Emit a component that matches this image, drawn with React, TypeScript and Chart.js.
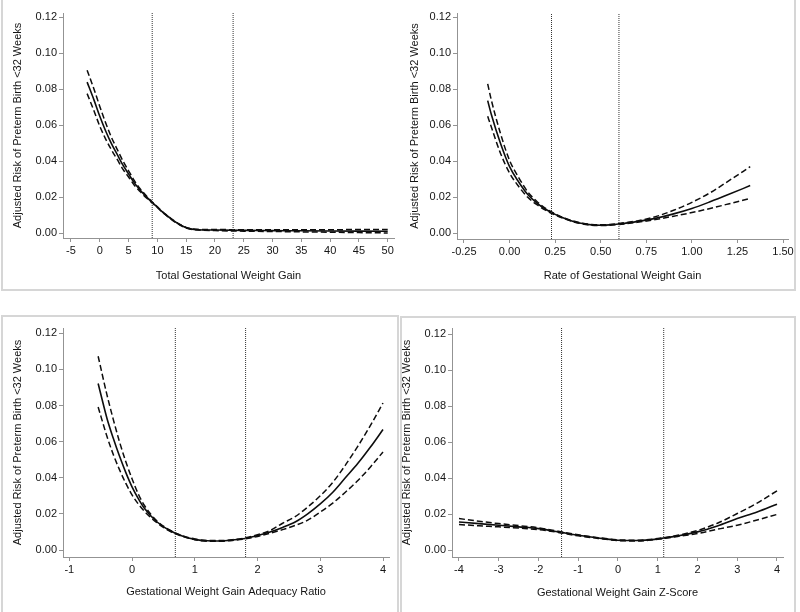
import React, { useEffect, useRef } from "react";
import { Chart, registerables } from "chart.js";

Chart.register(...registerables);

// ---------- Panel 1: Total Gestational Weight Gain ----------
const p1X = [-2.2, -1, 0, 1, 2, 3, 4, 5, 6, 7, 8, 9, 10, 11, 12, 13, 14, 15, 16, 17, 20, 25, 30, 35, 40, 45, 50];
const p1Est = [0.084, 0.074, 0.065, 0.057, 0.05, 0.044, 0.038, 0.033, 0.028, 0.024, 0.0205, 0.0175, 0.0145, 0.0115, 0.009, 0.0066, 0.0046, 0.0031, 0.0023, 0.002, 0.0018, 0.0016, 0.0015, 0.0014, 0.0013, 0.0012, 0.0011];
const p1Upper = [0.0906, 0.08, 0.0705, 0.0615, 0.0535, 0.0468, 0.0403, 0.0347, 0.0293, 0.0248, 0.0211, 0.0178, 0.0147, 0.0117, 0.0092, 0.0068, 0.0048, 0.0033, 0.0025, 0.0022, 0.0021, 0.002, 0.002, 0.002, 0.002, 0.0021, 0.0021];
const p1Lower = [0.0776, 0.068, 0.0595, 0.0525, 0.0465, 0.0412, 0.0357, 0.0313, 0.0267, 0.0232, 0.0199, 0.0172, 0.0143, 0.0113, 0.0088, 0.0064, 0.0044, 0.0029, 0.0021, 0.0018, 0.0015, 0.0012, 0.001, 0.0008, 0.0006, 0.0004, 0.0002];
const p1Cutoffs = [9.1, 23.15];
const p1Ticks = [-5, 0, 5, 10, 15, 20, 25, 30, 35, 40, 45, 50];

// ---------- Panel 2: Rate of Gestational Weight Gain ----------
const p2X = [-0.12, -0.1, -0.05, 0, 0.05, 0.1, 0.15, 0.2, 0.25, 0.3, 0.35, 0.4, 0.45, 0.5, 0.55, 0.6, 0.7, 0.8, 0.9, 1.0, 1.1, 1.2, 1.32];
const p2Est = [0.0737, 0.066, 0.05, 0.037, 0.0285, 0.0215, 0.0168, 0.0132, 0.0105, 0.0083, 0.0066, 0.0054, 0.0047, 0.0045, 0.0047, 0.0052, 0.0065, 0.0083, 0.0108, 0.0138, 0.0175, 0.0215, 0.0265];
const p2Upper = [0.083, 0.074, 0.0555, 0.0405, 0.031, 0.023, 0.0177, 0.0137, 0.0108, 0.0085, 0.0068, 0.0056, 0.0049, 0.0047, 0.0049, 0.0055, 0.0069, 0.0092, 0.0128, 0.0172, 0.0225, 0.029, 0.037];
const p2Lower = [0.065, 0.059, 0.0445, 0.0335, 0.026, 0.02, 0.0159, 0.0127, 0.0102, 0.0081, 0.0064, 0.0052, 0.0045, 0.0043, 0.0045, 0.0049, 0.0061, 0.0076, 0.0095, 0.0115, 0.0138, 0.0163, 0.0194];
const p2Cutoffs = [0.23, 0.6];
const p2Ticks = [-0.25, 0, 0.25, 0.5, 0.75, 1.0, 1.25, 1.5];

// ---------- Panel 3: Gestational Weight Gain Adequacy Ratio ----------
const p3X = [-0.54, -0.4, -0.3, -0.2, -0.1, 0, 0.1, 0.2, 0.4, 0.6, 0.8, 1.0, 1.2, 1.4, 1.6, 1.8, 2.0, 2.2, 2.4, 2.6, 2.8, 3.0, 3.2, 3.4, 3.6, 3.8, 4.0];
const p3Est = [0.0922, 0.073, 0.062, 0.052, 0.043, 0.035, 0.0285, 0.023, 0.0155, 0.0108, 0.0078, 0.0059, 0.0051, 0.005, 0.0055, 0.0064, 0.008, 0.01, 0.0125, 0.0155, 0.02, 0.0255, 0.032, 0.04, 0.048, 0.057, 0.0667];
const p3Upper = [0.1073, 0.086, 0.0725, 0.06, 0.049, 0.0395, 0.031, 0.0245, 0.016, 0.0111, 0.008, 0.0061, 0.0053, 0.0052, 0.0057, 0.0067, 0.0085, 0.0108, 0.0148, 0.0185, 0.0238, 0.03, 0.0375, 0.047, 0.0575, 0.069, 0.0814];
const p3Lower = [0.0792, 0.063, 0.053, 0.0445, 0.037, 0.0305, 0.0255, 0.0213, 0.015, 0.0105, 0.0076, 0.0057, 0.0049, 0.0048, 0.0053, 0.0061, 0.0075, 0.0093, 0.0113, 0.0136, 0.0165, 0.021, 0.026, 0.032, 0.0385, 0.046, 0.0543];
const p3Cutoffs = [0.69, 1.81];
const p3Ticks = [-1, 0, 1, 2, 3, 4];

// ---------- Panel 4: Gestational Weight Gain Z-Score ----------
const p4X = [-4, -3.5, -3, -2.5, -2, -1.5, -1, -0.5, 0, 0.5, 1, 1.5, 2, 2.5, 3, 3.5, 4];
const p4Est = [0.0157, 0.0148, 0.0139, 0.013, 0.012, 0.0102, 0.0083, 0.0068, 0.0056, 0.0054, 0.0063, 0.008, 0.0102, 0.0135, 0.0176, 0.0212, 0.0256];
const p4Upper = [0.0176, 0.0161, 0.0148, 0.0137, 0.0125, 0.0105, 0.0086, 0.007, 0.0058, 0.0056, 0.0065, 0.0083, 0.011, 0.015, 0.0204, 0.0262, 0.033];
const p4Lower = [0.0143, 0.0136, 0.013, 0.0123, 0.0115, 0.0099, 0.008, 0.0066, 0.0054, 0.0052, 0.0061, 0.0077, 0.0093, 0.0117, 0.0139, 0.0168, 0.0199];
const p4Cutoffs = [-1.42, 1.15];
const p4Ticks = [-4, -3, -2, -1, 0, 1, 2, 3, 4];

const yTicks = [0, 0.02, 0.04, 0.06, 0.08, 0.1, 0.12];
const yTitleText = "Adjusted Risk of Preterm Birth <32 Weeks";

const FONT_FAMILY = "'Liberation Sans', Arial, Helvetica, sans-serif";
const TEXT = "#151515";
const AXIS = "#939393";

type PanelDef = {
  left: number;
  top: number;
  width: number;
  height: number;
  area: { l: number; t: number; r: number; b: number };
  xMin: number;
  xMax: number;
  yMin: number;
  yMax: number;
  xTicks: number[];
  xFmt: (v: number) => string;
  xs: number[];
  est: number[];
  up: number[];
  lo: number[];
  cutoffs: number[];
  xTitle: string;
  yTitlePad: number;
  xTitlePad: number;
};

const toPts = (xs: number[], ys: number[]) => xs.map((x, i) => ({ x, y: ys[i] }));

function Panel(p: PanelDef) {
  const ref = useRef<HTMLCanvasElement | null>(null);
  useEffect(() => {
    if (!ref.current) return;
    const font = { family: FONT_FAMILY, size: 11 };
    const curve = (data: any, dashed: boolean) => ({
      data,
      borderColor: "#0d0d0d",
      borderWidth: dashed ? 1.5 : 1.6,
      borderDash: dashed ? [6, 3] : [],
      pointRadius: 0,
      fill: false,
      cubicInterpolationMode: "monotone" as const,
    });
    const vline = (x: number) => ({
      data: [
        { x, y: p.yMin },
        { x, y: p.yMax },
      ],
      borderColor: "#333",
      borderWidth: 1,
      borderDash: [1, 1],
      pointRadius: 0,
      fill: false,
    });
    const chart = new Chart(ref.current, {
      type: "line",
      data: {
        datasets: [
          ...p.cutoffs.map(vline),
          curve(toPts(p.xs, p.up), true),
          curve(toPts(p.xs, p.lo), true),
          curve(toPts(p.xs, p.est), false),
        ] as any,
      },
      options: {
        animation: false,
        responsive: false,
        maintainAspectRatio: false,
        events: [],
        layout: { padding: { left: 0, top: p.area.t, right: p.width - p.area.r, bottom: 0 } },
        plugins: { legend: { display: false }, tooltip: { enabled: false } },
        scales: {
          x: {
            type: "linear",
            min: p.xMin,
            max: p.xMax,
            afterBuildTicks: (s: any) => {
              s.ticks = p.xTicks.map((v) => ({ value: v }));
            },
            afterFit: (s: any) => {
              s.height = p.height - p.area.b;
            },
            ticks: {
              autoSkip: false,
              maxRotation: 0,
              padding: 2,
              color: TEXT,
              font,
              callback: (v: any) => p.xFmt(Number(v)),
            },
            grid: { drawOnChartArea: false, drawTicks: true, tickLength: 4, color: AXIS },
            border: { display: true, color: AXIS, width: 1 },
            title: {
              display: true,
              text: p.xTitle,
              color: TEXT,
              font,
              padding: { top: 0, bottom: p.xTitlePad },
            },
          },
          y: {
            type: "linear",
            min: p.yMin,
            max: p.yMax,
            afterBuildTicks: (s: any) => {
              s.ticks = yTicks.map((v) => ({ value: v }));
            },
            afterFit: (s: any) => {
              s.width = p.area.l;
            },
            ticks: {
              autoSkip: false,
              padding: 2,
              color: TEXT,
              font,
              callback: (v: any) => Number(v).toFixed(2),
            },
            grid: { drawOnChartArea: false, drawTicks: true, tickLength: 4, color: AXIS },
            border: { display: true, color: AXIS, width: 1 },
            title: {
              display: true,
              text: yTitleText,
              color: TEXT,
              font,
              padding: { top: p.yTitlePad, bottom: 0 },
            },
          },
        },
      } as any,
    });
    return () => chart.destroy();
  }, []);
  return (
    <canvas
      ref={ref}
      width={p.width}
      height={p.height}
      style={{ position: "absolute", left: p.left, top: p.top, width: p.width, height: p.height, display: "block" }}
    />
  );
}

const fmtInt = (v: number) => String(Math.round(v));
const fmt2 = (v: number) => v.toFixed(2);

export default function App() {
  const border = "2px solid #d6d6d6";
  return (
    <div style={{ position: "absolute", left: 0, top: 0, width: 800, height: 612, background: "#fff", overflow: "hidden" }}>
      <div style={{ position: "absolute", left: 1, top: -4, width: 795, height: 295, borderLeft: border, borderRight: border, borderBottom: border, boxSizing: "border-box" as const }} />
      <div style={{ position: "absolute", left: 1, top: 315, width: 398, height: 300, border: border, boxSizing: "border-box" as const }} />
      <div style={{ position: "absolute", left: 400, top: 316, width: 396, height: 300, border: border, boxSizing: "border-box" as const }} />
      <Panel
        left={0} top={0} width={400} height={295}
        area={{ l: 63, t: 13, r: 394, b: 238 }}
        xMin={-6.389} xMax={51.09} yMin={-0.00261} yMax={0.12239}
        xTicks={p1Ticks} xFmt={fmtInt}
        xs={p1X} est={p1Est} up={p1Upper} lo={p1Lower} cutoffs={p1Cutoffs}
        xTitle="Total Gestational Weight Gain" yTitlePad={11.4} xTitlePad={12.4}
      />
      <Panel
        left={400} top={0} width={400} height={295}
        area={{ l: 57, t: 13, r: 388, b: 239 }}
        xMin={-0.2884} xMax={1.5274} yMin={-0.00317} yMax={0.1224}
        xTicks={p2Ticks} xFmt={fmt2}
        xs={p2X} est={p2Est} up={p2Upper} lo={p2Lower} cutoffs={p2Cutoffs}
        xTitle="Rate of Gestational Weight Gain" yTitlePad={8.4} xTitlePad={12.4}
      />
      <Panel
        left={0} top={300} width={400} height={312}
        area={{ l: 63, t: 28, r: 389, b: 257 }}
        xMin={-1.1} xMax={4.0955} yMin={-0.003876} yMax={0.12293}
        xTicks={p3Ticks} xFmt={fmtInt}
        xs={p3X} est={p3Est} up={p3Upper} lo={p3Lower} cutoffs={p3Cutoffs}
        xTitle="Gestational Weight Gain Adequacy Ratio" yTitlePad={11.4} xTitlePad={13.7}
      />
      <Panel
        left={400} top={300} width={400} height={312}
        area={{ l: 52, t: 28, r: 383, b: 257 }}
        xMin={-4.176} xMax={4.151} yMin={-0.00373} yMax={0.12334}
        xTicks={p4Ticks} xFmt={fmtInt}
        xs={p4X} est={p4Est} up={p4Upper} lo={p4Lower} cutoffs={p4Cutoffs}
        xTitle="Gestational Weight Gain Z-Score" yTitlePad={0.5} xTitlePad={12.7}
      />
    </div>
  );
}
